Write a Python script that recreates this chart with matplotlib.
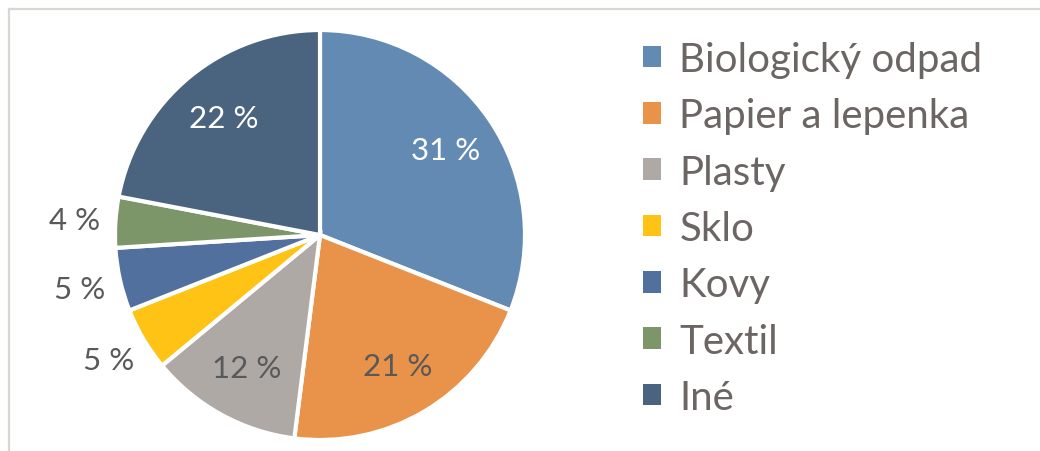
import numpy as np
import matplotlib.pyplot as plt
from matplotlib.patches import Patch
from matplotlib.lines import Line2D

categories = ["Biologický odpad", "Papier a lepenka", "Plasty", "Sklo", "Kovy", "Textil", "Iné"]
shares = [31, 21, 12, 5, 5, 4, 22]
colors = ["#638AB2", "#E8924A", "#AFA9A6", "#FEC314", "#51709E", "#7C966A", "#4A6480"]
label_colors = ["white", "#595959", "#595959", "#595959", "#595959", "#595959", "white"]
outside = [False, False, False, True, True, True, False]

plt.rcParams["font.family"] = ["Lato", "DejaVu Sans"]

fig = plt.figure(figsize=(10.4, 4.52), dpi=100)
ax = fig.add_axes([115 / 1040, 11 / 452, 410 / 1040, 410 / 452])

wedges, _ = ax.pie(shares, colors=colors, startangle=90, counterclock=False,
                   radius=1, wedgeprops=dict(edgecolor="white", linewidth=3))
ax.set_xlim(-1, 1)
ax.set_ylim(-1, 1)
ax.set_aspect("equal")
ax.axis("off")

for w, v, c, out in zip(wedges, shares, label_colors, outside):
    mid = np.deg2rad((w.theta1 + w.theta2) / 2)
    r = 1.2 if out else 0.74
    ax.text(r * np.cos(mid), r * np.sin(mid), f"{v} %", ha="center", va="center",
            fontsize=22.5, color=c, clip_on=False)

handles = [Patch(facecolor=c, edgecolor="none") for c in colors]
fig.legend(handles, categories, loc="upper left", bbox_to_anchor=(643 / 1040, 1 - 42 / 452),
           frameon=False, fontsize=29, labelcolor="#6B6563",
           handlelength=0.45, handleheight=0.45, handletextpad=0.45, labelspacing=0.48,
           borderpad=0, borderaxespad=0)

# light frame (top and left edges visible)
fig.add_artist(Line2D([9 / 1040, 1], [1 - 10 / 452, 1 - 10 / 452], color="#DAD6D2", lw=1.6))
fig.add_artist(Line2D([9 / 1040, 9 / 1040], [0, 1 - 10 / 452], color="#DAD6D2", lw=1.6))

fig.savefig("out.png", dpi=100)
